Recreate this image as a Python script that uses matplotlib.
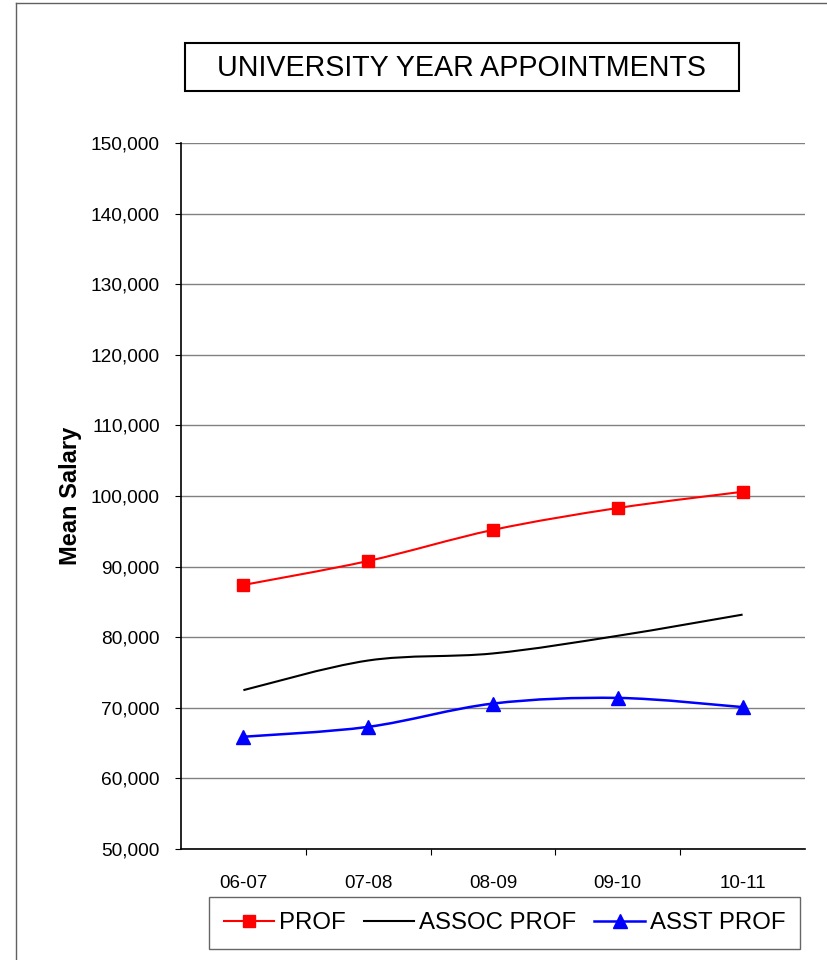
import numpy as np
import matplotlib
matplotlib.use('Agg')
from matplotlib import pyplot as plt
from matplotlib.path import Path
from matplotlib.patches import PathPatch, Rectangle
from matplotlib.lines import Line2D
from matplotlib.ticker import FuncFormatter, MultipleLocator

plt.rcParams['font.family'] = ['Liberation Sans', 'DejaVu Sans']

# data
years      = ['06-07', '07-08', '08-09', '09-10', '10-11']
prof       = [87400, 90800, 95200, 98300, 100600]
assoc_prof = [72500, 76700, 77700, 80200, 83200]
asst_prof  = [65900, 67300, 70600, 71400, 70100]


def smooth_path(x, y):
    # Excel-style smoothed line: cubic bezier segments through the points
    pts = np.column_stack([x, y]).astype(float)
    ext = np.vstack([pts[0], pts, pts[-1]])
    verts = [pts[0]]
    codes = [Path.MOVETO]
    for i in range(len(pts) - 1):
        p0, p1, p2, p3 = ext[i], ext[i+1], ext[i+2], ext[i+3]
        verts += [p1 + (p2 - p0)/6, p2 - (p3 - p1)/6, p2]
        codes += [Path.CURVE4]*3
    return Path(verts, codes)


W, H = 828, 960
fig = plt.figure(figsize=(W/100, H/100), dpi=100)
ax = fig.add_axes([181/W, 1 - 849/H, 624/W, 706/H])

x = np.arange(len(years))
series = [
    (prof,       'red',   's', 9,  1.5, 'PROF'),
    (assoc_prof, 'black', None, 0, 1.5, 'ASSOC PROF'),
    (asst_prof,  'blue',  '^', 10, 1.8, 'ASST PROF'),
]
handles = []
for vals, c, m, ms, lw, lab in series:
    ax.add_patch(PathPatch(smooth_path(x, vals), facecolor='none', edgecolor=c, lw=lw, zorder=3))
    if m:
        ax.plot(x, vals, linestyle='none', marker=m, markersize=ms, color=c, zorder=4)
    handles.append(Line2D([], [], color=c, lw=lw, marker=m, markersize=ms, label=lab))

ax.set_xlim(-0.5, len(years) - 0.5)
ax.set_ylim(50000, 150000)
ax.yaxis.set_major_locator(MultipleLocator(10000))
ax.yaxis.set_major_formatter(FuncFormatter(lambda v, p: f'{int(v):,}'))
ax.set_xticks(x)
ax.set_xticklabels(years)
ax.set_xticks(np.arange(0.5, len(years) - 1, 1), minor=True)
ax.tick_params(axis='x', which='major', length=0, pad=19, labelsize=13.5)
ax.tick_params(axis='x', which='minor', length=4.3, width=0.8, direction='out')
ax.tick_params(axis='y', length=4.3, width=0.8, pad=11, labelsize=13.8)
ax.grid(axis='y', color='#808080', lw=1)
ax.set_axisbelow(True)
for s in ['top', 'right']:
    ax.spines[s].set_visible(False)
for s in ['left', 'bottom']:
    ax.spines[s].set_linewidth(1.2)
ax.set_ylabel('Mean Salary', fontsize=17, fontweight='bold', labelpad=6)

# title box
fig.add_artist(Rectangle((185/W, 1 - 91/H), 554/W, 48/H, transform=fig.transFigure,
                         facecolor='white', edgecolor='black', lw=1.5))
fig.text(462/W, 1 - 68/H, 'UNIVERSITY YEAR APPOINTMENTS', ha='center', va='center', fontsize=20.6)

# outer frame lines
fig.add_artist(Line2D([16/W, 16/W], [0, 1 - 3/H], transform=fig.transFigure, color='#606060', lw=1))
fig.add_artist(Line2D([16/W, 1], [1 - 3/H, 1 - 3/H], transform=fig.transFigure, color='#606060', lw=1))

leg = fig.legend(handles=handles, loc='center', bbox_to_anchor=(504.5/W, 1 - 923/H), ncol=3,
                 fontsize=17.3, frameon=True, fancybox=False, edgecolor='#404040',
                 handlelength=2.1, handletextpad=0.2, columnspacing=0.75, borderpad=0.62)
leg.get_frame().set_linewidth(1)

fig.savefig('out.png', dpi=100)
